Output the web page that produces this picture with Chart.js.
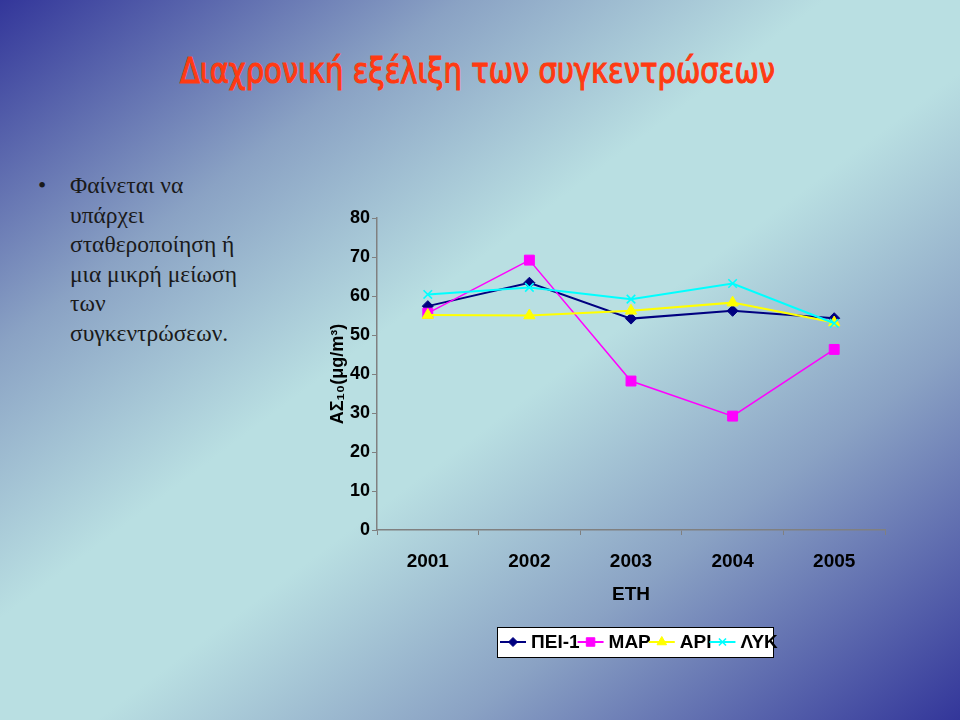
<!DOCTYPE html>
<html>
<head>
<meta charset="utf-8">
<script src="https://cdn.jsdelivr.net/npm/chart.js@4/dist/chart.umd.min.js"></script>
<style>
  html, body { margin:0; padding:0; }
  body {
    width:960px; height:720px; overflow:hidden; position:relative;
    background: linear-gradient(to bottom right, #33369a 0%, #8aa2c4 24%, #b9dfe2 43%, #b9dfe2 55%, #8aa2c4 74%, #33369a 100%);
  }
  #title {
    position:absolute; left:180px; top:51px;
    font-family:"DejaVu Sans Condensed","DejaVu Sans",sans-serif; font-weight:normal; font-size:35px; line-height:40px;
    color:#ff3a12; -webkit-text-stroke:1.1px #ff3a12; white-space:nowrap; transform-origin:0 0;
  }
  #bullet {
    position:absolute; left:38px; top:171px; width:260px;
    font-family:"Liberation Serif","Times New Roman",serif; font-size:23.5px; line-height:29.6px; color:#1a1a1a;
  }
  #bullet .dot { position:absolute; left:0; top:0; }
  #bullet .txt { position:absolute; left:32px; top:0; width:230px; }
  #wrap { position:absolute; left:0; top:0; width:960px; height:720px; }
</style>
</head>
<body>
<div id="title">Διαχρονική εξέλιξη των συγκεντρώσεων</div>
<div id="bullet"><span class="dot">•</span><div class="txt">Φαίνεται να<br>υπάρχει<br>σταθεροποίηση ή<br>μια μικρή μείωση<br>των<br>συγκεντρώσεων.</div></div>
<div id="wrap"><canvas id="c" width="960" height="720"></canvas></div>
<script>
const years = ["2001", "2002", "2003", "2004", "2005"];
const seriesNames = ["ΠΕΙ-1", "ΜΑΡ", "ΑΡΙ", "ΛΥΚ"];
const pei1 = [57.4, 63.4, 54.2, 56.2, 54.3];
const mar = [55.6, 69.2, 38.2, 29.2, 46.3];
const ari = [55.1, 55.0, 56.2, 58.3, 53.2];
const lyk = [60.4, 62.2, 59.2, 63.2, 53.0];
const yTicks = [0, 10, 20, 30, 40, 50, 60, 70, 80];
const xTitle = "ΕΤΗ";
const yTitle = "ΑΣ₁₀(μg/m³)";

// fit the heading to its width in the reference
(function () {
  const t = document.getElementById("title");
  const w = t.getBoundingClientRect().width;
  t.style.transform = "scaleX(" + (595 / w) + ")";
})();

const colors = ["#000080", "#ff00ff", "#ffff00", "#00ffff"];
const styles = ["rectRot", "rect", "triangle", "crossRot"];
const radii = [5.5, 7, 6.5, 6];
const widths = [2, 1.5, 2, 2];
const values = [pei1, mar, ari, lyk];

const datasets = seriesNames.map((n, i) => ({
  label: n,
  data: values[i],
  borderColor: colors[i],
  backgroundColor: colors[i],
  borderWidth: widths[i],
  pointStyle: styles[i],
  pointRadius: radii[i],
  pointHoverRadius: radii[i],
  pointBorderWidth: styles[i] === "crossRot" ? 1.6 : 1,
  pointBorderColor: colors[i],
  pointBackgroundColor: colors[i],
  tension: 0,
  order: seriesNames.length - i
}));

const legendFont = "bold 19px 'Liberation Sans', Arial, sans-serif";
const legendPlugin = {
  id: "boxLegend",
  afterDraw(chart) {
    const ctx = chart.ctx;
    const bx = 497, by = 627, bw = 276, bh = 30;
    ctx.save();
    ctx.fillStyle = "#ffffff";
    ctx.fillRect(bx, by, bw, bh);
    ctx.strokeStyle = "#000000";
    ctx.lineWidth = 1;
    ctx.strokeRect(bx + 0.5, by + 0.5, bw, bh);
    const cy = by + bh / 2;
    ctx.font = legendFont;
    let x0 = 500;
    chart.data.datasets.forEach((ds) => {
      ctx.strokeStyle = ds.borderColor;
      ctx.lineWidth = 2;
      ctx.beginPath();
      ctx.moveTo(x0, cy);
      ctx.lineTo(x0 + 26, cy);
      ctx.stroke();
      ctx.fillStyle = ds.pointBackgroundColor;
      ctx.strokeStyle = ds.pointBorderColor;
      ctx.lineWidth = ds.pointBorderWidth;
      Chart.helpers.drawPoint(ctx, {
        pointStyle: ds.pointStyle,
        radius: ds.pointRadius - 1,
        borderWidth: ds.pointBorderWidth,
        rotation: 0
      }, x0 + 13, cy);
      ctx.fillStyle = "#000000";
      ctx.font = legendFont;
      ctx.textBaseline = "middle";
      ctx.textAlign = "left";
      ctx.fillText(ds.label, x0 + 31, cy + 1);
      x0 += 30 + ctx.measureText(ds.label).width - 1;
    });
    ctx.restore();
  }
};

new Chart(document.getElementById("c"), {
  type: "line",
  data: { labels: years, datasets },
  plugins: [legendPlugin],
  options: {
    responsive: false,
    animation: false,
    events: [],
    layout: { padding: { left: 317, top: 218, right: 75, bottom: 110 } },
    plugins: { legend: { display: false }, tooltip: { enabled: false } },
    scales: {
      x: {
        type: "category",
        offset: true,
        afterFit(s) { s.height = 80; },
        grid: { display: true, drawOnChartArea: false, drawTicks: true, tickLength: 5, color: "#808080", offset: true },
        border: { display: true, color: "#808080", width: 1.5 },
        ticks: { color: "#000000", padding: 15, font: { family: "'Liberation Sans', Arial, sans-serif", size: 19, weight: "bold" } },
        title: { display: true, text: xTitle, color: "#000000", padding: { top: 0, bottom: 4 }, font: { family: "'Liberation Sans', Arial, sans-serif", size: 19, weight: "bold" } }
      },
      y: {
        min: 0, max: 80,
        afterFit(s) { s.width = 60; },
        afterBuildTicks(s) { s.ticks = yTicks.map(v => ({ value: v })); },
        grid: { display: true, drawOnChartArea: false, drawTicks: true, tickLength: 5, color: "#808080" },
        border: { display: true, color: "#808080", width: 1.5 },
        ticks: { color: "#000000", padding: 2, font: { family: "'Liberation Sans', Arial, sans-serif", size: 18, weight: "bold" } },
        title: { display: true, text: yTitle, color: "#000000", padding: { top: 10, bottom: 0 }, font: { family: "'Liberation Sans', Arial, sans-serif", size: 18, weight: "bold" } }
      }
    }
  }
});
</script>
</body>
</html>
